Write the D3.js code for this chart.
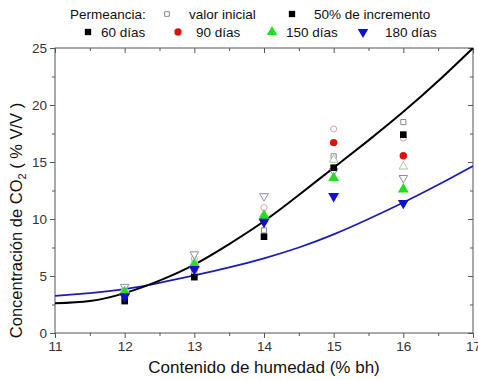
<!DOCTYPE html>
<html><head><meta charset="utf-8">
<script src="https://cdn.jsdelivr.net/npm/d3@7"></script>
<style>body{margin:0;background:#fff}svg{display:block;font-family:Arial,"Liberation Sans",sans-serif}</style>
</head><body><svg id="c" width="478" height="381"></svg>
<script>
const humedad = [12, 13, 14, 15, 16];
// 50% de incremento (filled markers)
const inc60  = [2.8, 4.9, 8.45, 14.5, 17.4];
const inc90  = [3.3, 5.7, 9.9, 16.7, 15.55];
const inc150 = [3.6, 6.0, 10.25, 13.6, 12.6];
const inc180 = [3.2, 5.6, 9.75, 12.0, 11.4];
// valor inicial (open markers)
const ini60  = [3.4, 5.3, 9.0, 15.5, 18.5];
const ini90  = [3.7, 6.5, 11.0, 17.9, 17.1];
const ini150 = [3.8, 6.2, 10.4, 15.2, 14.6];
const ini180 = [4.05, 6.9, 12.0, 14.2, 13.6];
// fitted curves
const curveX = [11, 11.5, 12, 12.5, 13, 13.5, 14, 14.5, 15, 15.5, 16, 16.5, 17];
const curveBlack = [2.6, 2.8, 3.5, 4.6, 6.0, 7.8, 9.8, 12.1, 14.5, 16.9, 19.4, 22.1, 25.0];
const curveBlue  = [3.25, 3.5, 3.85, 4.4, 5.05, 5.75, 6.55, 7.5, 8.65, 10.0, 11.45, 13.0, 14.65];
const xTicks = [11, 12, 13, 14, 15, 16, 17];
const yTicks = [0, 5, 10, 15, 20, 25];

const svg = d3.select("#c");
const L = 55, R = 473, T = 48, B = 333;
const x = d3.scaleLinear().domain([11, 17]).range([L, R]);
const y = d3.scaleLinear().domain([0, 25]).range([B, T]);
const axisCol = "#555";

const sym = { sq: d3.symbolSquare, ci: d3.symbolCircle, tu: d3.symbolTriangle };
function marker(g, type, cx, cy, size, fill, stroke) {
  let p = g.append("path").attr("fill", fill).attr("stroke", stroke || "none");
  if (type === "td") {
    p.attr("d", d3.symbol(d3.symbolTriangle, size)()).attr("transform", `translate(${cx},${cy}) rotate(180)`);
  } else {
    p.attr("d", d3.symbol(sym[type], size)()).attr("transform", `translate(${cx},${cy})`);
  }
  return p;
}

// axes
const gx = svg.append("g").attr("transform", `translate(0,${B})`)
  .call(d3.axisBottom(x).tickValues(xTicks).tickSize(5).tickPadding(3).tickFormat(d3.format("d")));
const gxm = svg.append("g").attr("transform", `translate(0,${B})`)
  .call(d3.axisBottom(x).tickValues(d3.range(11.5, 17, 1)).tickSize(3).tickFormat(""));
const gy = svg.append("g").attr("transform", `translate(${L},0)`)
  .call(d3.axisLeft(y).tickValues(yTicks).tickSize(5).tickPadding(3));
const gym = svg.append("g").attr("transform", `translate(${L},0)`)
  .call(d3.axisLeft(y).tickValues(d3.range(2.5, 25, 5)).tickSize(3).tickFormat(""));
const gt = svg.append("g").attr("transform", `translate(0,${T})`)
  .call(d3.axisBottom(x).tickValues(xTicks).tickSize(5).tickFormat(""));
const gtm = svg.append("g").attr("transform", `translate(0,${T})`)
  .call(d3.axisBottom(x).tickValues(d3.range(11.5, 17, 1)).tickSize(3).tickFormat(""));
const gr = svg.append("g").attr("transform", `translate(${R},0)`)
  .call(d3.axisLeft(y).tickValues(yTicks).tickSize(5).tickFormat(""));
const grm = svg.append("g").attr("transform", `translate(${R},0)`)
  .call(d3.axisLeft(y).tickValues(d3.range(2.5, 25, 5)).tickSize(3).tickFormat(""));
[gx, gxm, gy, gym, gt, gtm, gr, grm].forEach(g => {
  g.select(".domain").remove();
  g.selectAll("line").attr("stroke", axisCol);
  g.selectAll("text").attr("fill", "#333").style("font-size", "13.5px").style("font-family", "Arial, 'Liberation Sans', sans-serif");
});
svg.append("rect").attr("x", L).attr("y", T).attr("width", R - L).attr("height", B - T)
  .attr("fill", "none").attr("stroke", axisCol).attr("stroke-width", 1);

// clip
svg.append("clipPath").attr("id", "clip").append("rect").attr("x", L).attr("y", T).attr("width", R - L).attr("height", B - T);
const plot = svg.append("g").attr("clip-path", "url(#clip)");

// curves
const line = d3.line().x(d => x(d[0])).y(d => y(d[1])).curve(d3.curveNatural);
plot.append("path").attr("d", line(curveX.map((v, i) => [v, curveBlue[i]])))
  .attr("fill", "none").attr("stroke", "#1c1cb4").attr("stroke-width", 1.8);
plot.append("path").attr("d", line(curveX.map((v, i) => [v, curveBlack[i]])))
  .attr("fill", "none").attr("stroke", "#000").attr("stroke-width", 2);

// open markers (valor inicial)
const openSeries = [
  {v: ini60, t: "sq", c: "#8a8a8a", s: 26},
  {v: ini90, t: "ci", c: "#e0a0a8", s: 30},
  {v: ini150, t: "tu", c: "#a0cca0", s: 32},
  {v: ini180, t: "td", c: "#8c8ca8", s: 32}
];
openSeries.forEach(sr => {
  sr.v.forEach((val, i) => marker(svg, sr.t, x(humedad[i]), y(val), sr.s, "#fff", sr.c).attr("stroke-width", 1));
});
// filled markers (50% de incremento)
const fillSeries = [
  {v: inc60, t: "sq", c: "#000", s: 44},
  {v: inc90, t: "ci", c: "#e01010", s: 44},
  {v: inc150, t: "tu", c: "#22dd22", s: 52},
  {v: inc180, t: "td", c: "#1010c8", s: 52}
];
fillSeries.forEach(sr => {
  sr.v.forEach((val, i) => marker(svg, sr.t, x(humedad[i]), y(val), sr.s, sr.c));
});

// axis titles
svg.append("text").attr("x", 264).attr("y", 373).attr("text-anchor", "middle")
  .style("font-size", "17px").attr("fill", "#111").text("Contenido de humedad (% bh)");
const yl = svg.append("text").attr("transform", `translate(22,${(T + B) / 2 + 30}) rotate(-90)`)
  .attr("text-anchor", "middle").style("font-size", "16.5px").attr("fill", "#111");
yl.append("tspan").text("Concentración de CO");
yl.append("tspan").attr("dy", 4).style("font-size", "11px").text("2");
yl.append("tspan").attr("dy", -4).text(" ( % V/V )");

// legend
const lg = svg.append("g").style("font-size", "13.5px").attr("fill", "#111");
lg.append("text").attr("x", 70).attr("y", 19).text("Permeancia:");
marker(lg, "sq", 167, 14, 22, "#fff", "#8a8a8a");
lg.append("text").attr("x", 189).attr("y", 19).text("valor inicial");
marker(lg, "sq", 292, 14, 40, "#000");
lg.append("text").attr("x", 314).attr("y", 19).text("50% de incremento");
marker(lg, "sq", 88, 32, 40, "#000");
lg.append("text").attr("x", 101).attr("y", 37).text("60 días");
marker(lg, "ci", 178, 32, 42, "#e01010");
lg.append("text").attr("x", 196).attr("y", 37).text("90 días");
marker(lg, "tu", 272, 32, 48, "#22dd22");
lg.append("text").attr("x", 286).attr("y", 37).text("150 días");
marker(lg, "td", 363, 32, 48, "#1010c8");
lg.append("text").attr("x", 385).attr("y", 37).text("180 días");
</script></body></html>
